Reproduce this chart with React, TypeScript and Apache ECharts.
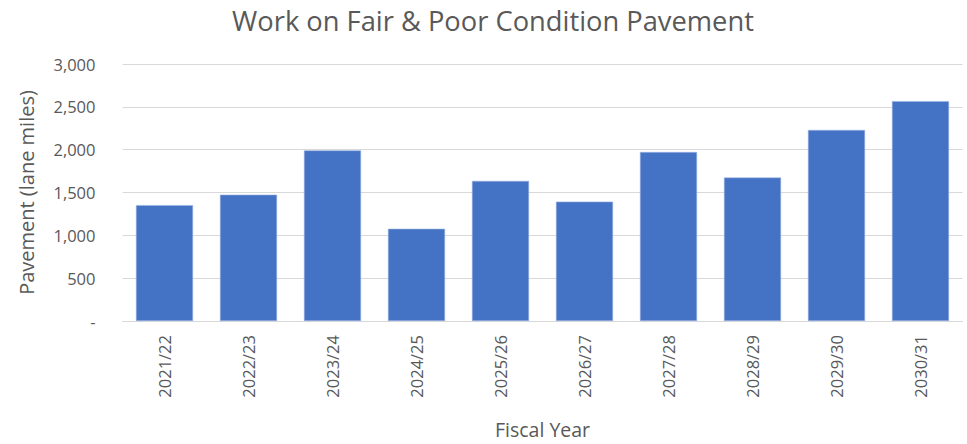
import React, { useEffect, useRef } from "react";
import * as echarts from "echarts";

const categories = ["2021/22", "2022/23", "2023/24", "2024/25", "2025/26", "2026/27", "2027/28", "2028/29", "2029/30", "2030/31"];
const laneMiles = [1353, 1475, 1992, 1077, 1636, 1394, 1973, 1675, 2230, 2567];
const chartTitle = "Work on Fair & Poor Condition Pavement";
const yAxisName = "Pavement (lane miles)";
const xAxisName = "Fiscal Year";

const FONT = "'Open Sans', 'Noto Sans', sans-serif";
const GREY = "#595959";

export default function App() {
  const ref = useRef<HTMLDivElement>(null);
  useEffect(() => {
    document.body.style.margin = "0";
    if (!ref.current) return;
    const chart = echarts.init(ref.current, null, { renderer: "svg" });
    chart.setOption({
      animation: false,
      backgroundColor: "#ffffff",
      title: {
        text: chartTitle,
        left: 488,
        textAlign: "center",
        top: 0,
        textStyle: { fontFamily: FONT, fontSize: 27.3, fontWeight: "normal", color: GREY, lineHeight: 30 },
      },
      grid: { left: 122.5, right: 4.5, top: 64, bottom: 119, containLabel: false },
      xAxis: {
        type: "category",
        data: categories,
        name: xAxisName,
        nameLocation: "middle",
        nameGap: 98,
        nameTextStyle: { fontFamily: FONT, fontSize: 19.5, color: GREY },
        axisLine: { show: true, lineStyle: { color: "#D9D9D9", width: 1 } },
        axisTick: { show: false },
        axisLabel: { rotate: 90, fontFamily: FONT, fontSize: 16.5, color: GREY, margin: 14 },
      },
      yAxis: {
        type: "value",
        min: 0,
        max: 3000,
        interval: 500,
        name: yAxisName,
        nameLocation: "middle",
        nameGap: 86,
        nameTextStyle: { fontFamily: FONT, fontSize: 20, color: GREY },
        axisLine: { show: false },
        axisTick: { show: false },
        axisLabel: {
          fontFamily: FONT,
          fontSize: 16.5,
          color: GREY,
          margin: 27,
          formatter: (v: number) => (v === 0 ? "-" : v.toLocaleString("en-US")),
        },
        splitLine: { show: true, lineStyle: { color: "#D9D9D9", width: 1 } },
      },
      series: [
        {
          type: "bar",
          data: laneMiles,
          barCategoryGap: "32%",
          itemStyle: { color: "#4472C4", borderColor: "#9db4e0", borderWidth: 0.6 },
        },
      ],
    });
    return () => chart.dispose();
  }, []);
  return <div ref={ref} style={{ width: 967, height: 444 }} />;
}
